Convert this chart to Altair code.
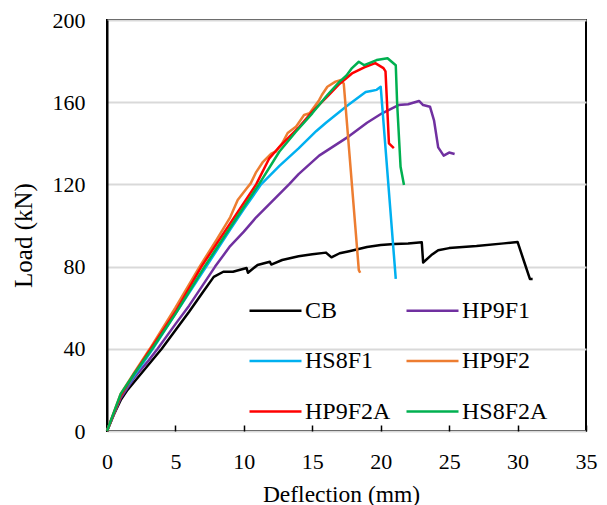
import altair as alt
import pandas as pd

# ---- data ----
series_names = ["CB", "HP9F1", "HS8F1", "HP9F2", "HP9F2A", "HS8F2A"]
series_colors = ["#000000", "#7030A0", "#00B0F0", "#ED7D31", "#FF0000", "#00B050"]
# legend layout fills column by column: CB/HS8F1/HP9F2A | HP9F1/HP9F2/HS8F2A
legend_order = ["CB", "HS8F1", "HP9F2A", "HP9F1", "HP9F2", "HS8F2A"]

cb_x = [0, 0.5, 1, 1.5, 2, 3, 4, 5, 6, 7, 7.8, 8.5, 9.2, 10.2, 10.3, 11, 11.9, 12, 12.8, 14, 15, 16, 16.4,
        17, 17.7, 19, 20, 21, 22, 23, 23.1, 23.7, 24.2, 25, 27, 29, 30, 30.5, 30.9, 31.1]
cb_y = [0, 8, 15, 20, 24, 32, 40, 49, 58, 67.5, 75, 77.5, 77.5, 79.3, 77, 80.8, 82.4, 81, 83.2, 85, 86, 86.8, 84.5,
        86.5, 87.5, 89.5, 90.5, 91, 91.3, 91.8, 82, 85.6, 88, 89, 90, 91.3, 92, 82, 74, 74]

hp9f1_x = [0, 1, 2, 3, 3.7, 5, 6, 7, 7.9, 9, 10, 10.9, 12.1, 13.3, 14, 15.5, 17.7, 19, 20.1, 21.3, 22, 22.8,
           23.1, 23.6, 23.9, 24.2, 24.6, 25, 25.4]
hp9f1_y = [0, 16, 26, 34, 40, 52, 61, 71, 80, 90, 97, 104, 112, 120, 125, 134, 143.5, 150, 154.6, 158.6, 159, 160.6,
           158.6, 157.8, 151, 138, 134, 135.5, 134.8]

hs8f1_x = [0, 1, 2, 3.35, 5, 7.25, 9, 10, 11.26, 12.6, 14, 15.3, 16, 17.5, 18.9, 19.3, 19.7, 20, 20.7, 21.1]
hs8f1_y = [0, 17, 27, 40, 57, 80, 98, 108, 120, 129, 137.5, 146, 150, 158, 165, 165.5, 166, 167.5, 108, 74]

hp9f2_x = [0, 1, 2, 3.13, 5, 6.77, 8, 9, 9.55, 10.2, 10.5, 10.9, 11.4, 12, 12.35, 12.8, 13.2, 13.8, 14.4, 14.8,
           15.5, 15.7, 16.1, 16.7, 17.1, 17.3, 18.4, 18.5]
hp9f2_y = [0, 18, 28.5, 40, 60, 80, 93, 104, 112.4, 118, 120.5, 126, 131, 135, 136, 140, 145, 148, 153.8, 154.6,
           161, 163.5, 167.5, 170, 170.8, 169, 78.3, 77]

hp9f2a_x = [0, 1, 2, 3.2, 5, 6.9, 9, 10.9, 11.86, 12.6, 13.3, 14.05, 15, 16.2, 17, 17.9, 18.8, 19.6, 20.2, 20.35,
            20.6, 20.96]
hp9f2a_y = [0, 17, 28, 40, 58, 80, 101, 120, 132.7, 138.3, 143, 148, 155.4, 163.5, 169, 174, 177, 179, 176.6, 175,
            140, 137.6]

hs8f2a_x = [0, 1, 2, 3.3, 5, 7.13, 9, 11.1, 12.6, 13.8, 15, 16.1, 17, 17.5, 17.9, 18.4, 18.8, 19.7, 20.5, 21.1,
            21.2, 21.45, 21.7]
hs8f2a_y = [0, 18, 28, 40, 57, 80, 99, 120, 136, 145.6, 154.6, 163.5, 170, 173, 176.6, 179.7, 178, 180.5, 181.4, 178,
            159.5, 128.6, 119.7]

x_ticks = [0, 5, 10, 15, 20, 25, 30, 35]
y_ticks = [0, 40, 80, 120, 160, 200]

# ---- build table ----
rows = []
for name, xs, ys in [("CB", cb_x, cb_y), ("HP9F1", hp9f1_x, hp9f1_y), ("HS8F1", hs8f1_x, hs8f1_y),
                     ("HP9F2", hp9f2_x, hp9f2_y), ("HP9F2A", hp9f2a_x, hp9f2a_y), ("HS8F2A", hs8f2a_x, hs8f2a_y)]:
    for i, (xv, yv) in enumerate(zip(xs, ys)):
        rows.append({"series": name, "x": xv, "y": yv, "i": i})
df = pd.DataFrame(rows)

FONT = "Liberation Serif"
W, H = 479, 411

legend_colors = [series_colors[series_names.index(n)] for n in legend_order]

xscale = alt.Scale(domain=[0, 35], nice=False, zero=False)
yscale = alt.Scale(domain=[0, 200], nice=False)

chart = alt.Chart(df).mark_line(strokeWidth=2.5, strokeJoin="round").encode(
    x=alt.X("x:Q", scale=xscale,
            axis=alt.Axis(values=x_ticks, title="Deflection (mm)", grid=False,
                          # axis moved 6px inside so its outward ticks point into the plot
                          offset=-6, domain=False, ticks=True, tickSize=6, tickWidth=1.5,
                          tickColor="black", labelFlush=False,
                          titleFontSize=23.5, titleX=234, titleY=57, titleBaseline="top",
                          labelPadding=20, titlePadding=16)),
    y=alt.Y("y:Q", scale=yscale,
            axis=alt.Axis(values=y_ticks, title="Load (kN)", grid=True, gridColor="#d9d9d9", gridWidth=2,
                          titleFontSize=25, titleY=215, labelFlush=False,
                          ticks=False, labelPadding=22, titlePadding=16, domainColor="black", domainWidth=2)),
    color=alt.Color("series:N", scale=alt.Scale(domain=legend_order, range=legend_colors),
                    legend=alt.Legend(title=None, orient="none", legendX=141, legendY=263, columns=2,
                                      symbolType="stroke", symbolSize=2704, symbolStrokeWidth=2.5,
                                      labelFont=FONT, labelFontSize=24, labelColor="black",
                                      labelOffset=2, rowPadding=10.5, columnPadding=10)),
    order="i:Q",
    detail="series:N",
).properties(
    width=W, height=H,
    autosize=alt.AutoSizeParams(type="none"),
    padding={"left": 107, "top": 20, "right": 21, "bottom": 74},
    background="white",
).configure_view(
    stroke="black", strokeWidth=2,
).configure_axis(
    labelFont=FONT, titleFont=FONT, labelFontSize=22, titleFontSize=23.5,
    labelColor="black", titleColor="black", titleFontWeight="normal",
)

chart.save("out.html", embed_options={"renderer": "svg", "actions": False})
